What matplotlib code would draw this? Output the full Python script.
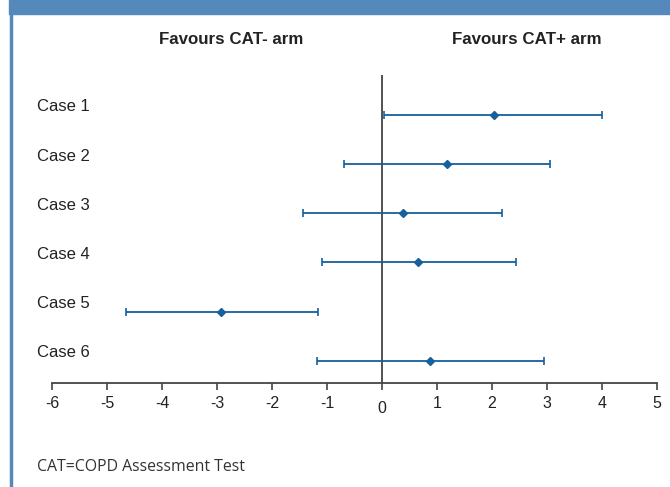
import numpy as np
import matplotlib.pyplot as plt
from matplotlib.patches import Rectangle
from matplotlib.lines import Line2D
import matplotlib.transforms as mtransforms

cases = ["Case 1", "Case 2", "Case 3", "Case 4", "Case 5", "Case 6"]
est = [2.04, 1.18, 0.38, 0.65, -2.93, 0.87]
low = [0.04, -0.69, -1.44, -1.09, -4.65, -1.18]
high = [4.0, 3.05, 2.18, 2.44, -1.16, 2.95]
ticks = [-6, -5, -4, -3, -2, -1, 0, 1, 2, 3, 4, 5]

W, H = 670, 487
fig = plt.figure(figsize=(W / 100, H / 100), dpi=100)
plt.rcParams['font.family'] = ['Liberation Sans', 'DejaVu Sans']

blue = "#5589bb"
bar_col = "#17609c"

# banner + left border
fig.patches.append(Rectangle((9 / W, 1 - 14 / H), 1, 14 / H, transform=fig.transFigure,
                             color=blue, zorder=0))
fig.lines.append(Line2D([11 / W, 11 / W], [0, 1], transform=fig.transFigure,
                        color=blue, lw=2.5))

ax = fig.add_axes([52 / W, (H - 383) / H, 605 / W, 308 / H])
y = np.arange(len(cases))
est = np.array(est)
err = [est - np.array(low), np.array(high) - est]
ax.errorbar(est, y, xerr=err, fmt='D', color=bar_col, ms=4.5, lw=1.3,
            capsize=3, capthick=1.2, elinewidth=1.3)
ax.axvline(0, color="#222222", lw=1.1, zorder=0)

ax.set_xlim(-6, 5)
ax.set_ylim(5.45, -0.81)
ax.set_yticks([])
for s in ["top", "right", "left"]:
    ax.spines[s].set_visible(False)
ax.spines["bottom"].set_color("#444444")
ax.spines["bottom"].set_linewidth(1.3)
ax.set_xticks(ticks)
ax.set_xticklabels([str(t) for t in ticks])
ax.tick_params(axis='x', direction='out', length=5, width=1.2, color="#444444",
               labelsize=11.5, labelcolor="#222222", pad=4)
ax.xaxis.get_major_ticks()[ticks.index(0)].set_pad(8)

tr = mtransforms.blended_transform_factory(fig.transFigure, ax.transData)
for i, c in enumerate(cases):
    ax.text(37 / W, i - 0.16, c, transform=tr, fontsize=12, color="#222222",
            va='center', ha='left')

fig.text(231 / W, 1 - 39 / H, "Favours CAT- arm", ha='center', va='center',
         fontsize=12.2, fontweight='bold', color="#222222")
fig.text(527 / W, 1 - 39 / H, "Favours CAT+ arm", ha='center', va='center',
         fontsize=12.2, fontweight='bold', color="#222222")
fig.text(37 / W, 1 - 467 / H, "CAT=COPD Assessment Test", ha='left', va='center',
         fontsize=11.4, color="#333333", family=['Open Sans', 'DejaVu Sans'])

fig.savefig("out.png", dpi=100)
